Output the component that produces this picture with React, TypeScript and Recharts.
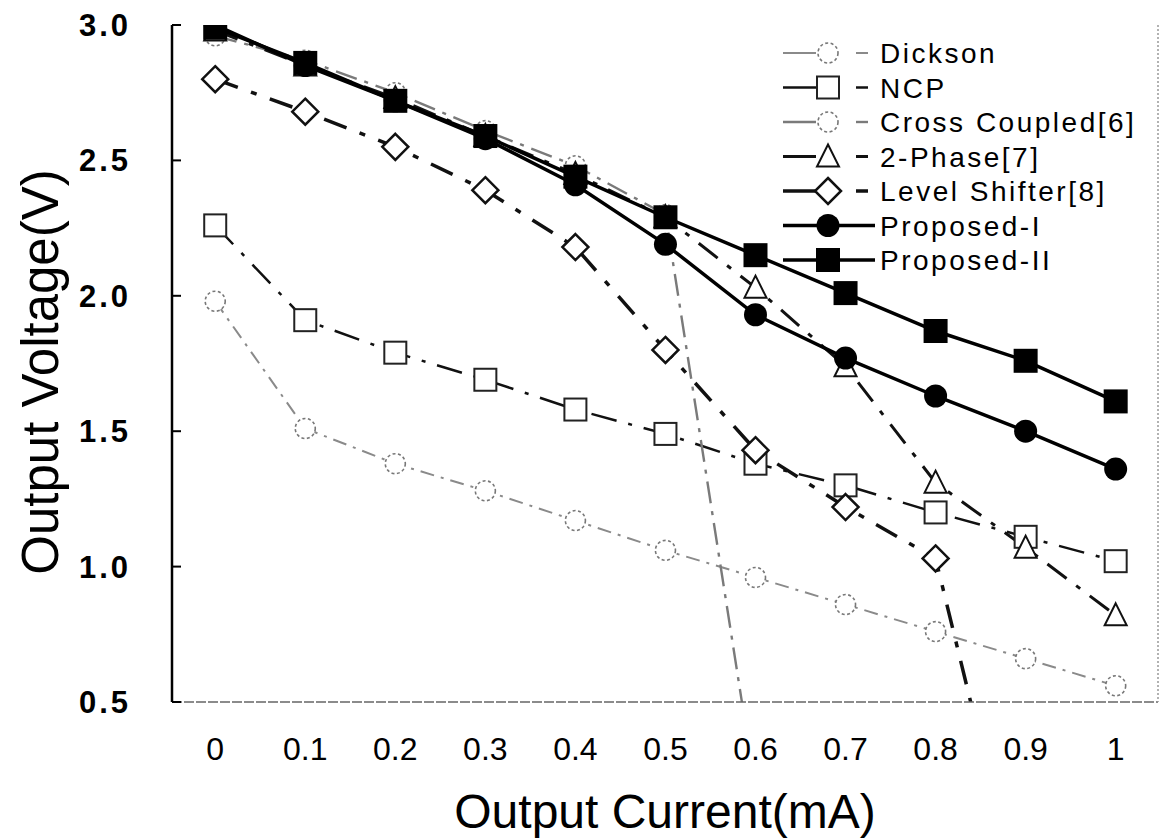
import React from 'react';
import { LineChart, Line, XAxis, YAxis, Legend } from 'recharts';

const currents = [0, 0.1, 0.2, 0.3, 0.4, 0.5, 0.6, 0.7, 0.8, 0.9, 1];
const dickson = [1.98, 1.51, 1.38, 1.28, 1.17, 1.06, 0.96, 0.86, 0.76, 0.66, 0.56];
const ncp = [2.26, 1.91, 1.79, 1.69, 1.58, 1.49, 1.38, 1.3, 1.2, 1.11, 1.02];
const crossCoupled = [2.96, 2.87, 2.75, 2.61, 2.48, 2.3, 0.18, null, null, null, null];
const twoPhase = [2.98, 2.85, 2.73, 2.59, 2.45, 2.29, 2.03, 1.74, 1.31, 1.07, 0.82];
const levelShifter = [2.8, 2.68, 2.55, 2.39, 2.18, 1.8, 1.43, 1.22, 1.03, -0.33, null];
const proposedI = [3.0, 2.85, 2.72, 2.58, 2.41, 2.19, 1.93, 1.77, 1.63, 1.5, 1.36];
const proposedII = [2.99, 2.86, 2.72, 2.59, 2.44, 2.29, 2.15, 2.01, 1.87, 1.76, 1.61];

const xTicks = [0, 0.1, 0.2, 0.3, 0.4, 0.5, 0.6, 0.7, 0.8, 0.9, 1];
const yTicks = [0.5, 1.0, 1.5, 2.0, 2.5, 3.0];
const seriesNames = ['Dickson', 'NCP', 'Cross Coupled[6]', '2-Phase[7]', 'Level Shifter[8]', 'Proposed-I', 'Proposed-II'];

const data = currents.map((c, i) => ({
  x: c,
  dickson: dickson[i],
  ncp: ncp[i],
  cross: crossCoupled[i],
  twoPhase: twoPhase[i],
  level: levelShifter[i],
  p1: proposedI[i],
  p2: proposedII[i],
}));

const FONT = '"Liberation Sans", Arial, Helvetica, sans-serif';
const Y_MIN = 0.5;

type Kind = 'dickson' | 'ncp' | 'cross' | 'twoPhase' | 'level' | 'p1' | 'p2';

const styles: Record<Kind, { stroke: string; width: number; dash?: string }> = {
  dickson: { stroke: '#8a8a8a', width: 2, dash: '14 7 3 7' },
  ncp: { stroke: '#111', width: 2.5, dash: '26 12 4 12' },
  cross: { stroke: '#7a7a7a', width: 2.4, dash: '22 8 4 8' },
  twoPhase: { stroke: '#111', width: 3, dash: '24 12 5 12' },
  level: { stroke: '#111', width: 3.5, dash: '24 14 6 14' },
  p1: { stroke: '#000', width: 3.5 },
  p2: { stroke: '#000', width: 3.5 },
};

function Marker({ kind, cx, cy }: { kind: Kind; cx: number; cy: number }) {
  switch (kind) {
    case 'dickson':
    case 'cross':
      return <circle cx={cx} cy={cy} r={10} fill="#fff" stroke="#777" strokeWidth={1.6} strokeDasharray="3 2.5" />;
    case 'ncp':
      return <rect x={cx - 11} y={cy - 11} width={22} height={22} fill="#fff" stroke="#222" strokeWidth={2} />;
    case 'twoPhase':
      return <polygon points={`${cx},${cy - 12} ${cx + 11},${cy + 10} ${cx - 11},${cy + 10}`} fill="#fff" stroke="#111" strokeWidth={2} />;
    case 'level':
      return <polygon points={`${cx},${cy - 13} ${cx + 13},${cy} ${cx},${cy + 13} ${cx - 13},${cy}`} fill="#fff" stroke="#111" strokeWidth={2.5} />;
    case 'p1':
      return <circle cx={cx} cy={cy} r={11.5} fill="#000" />;
    case 'p2':
      return <rect x={cx - 12} y={cy - 12} width={24} height={24} fill="#000" />;
  }
  return null;
}

const makeDot = (kind: Kind) => (props: any) => {
  const { cx, cy, value, index } = props;
  const v = Array.isArray(value) ? value[1] : value;
  if (cx == null || cy == null || v == null || v < Y_MIN) return <g key={`${kind}-${index}`} />;
  return (
    <g key={`${kind}-${index}`}>
      <Marker kind={kind} cx={cx} cy={cy} />
    </g>
  );
};

const XTick = (props: any) => {
  const { x, y, payload } = props;
  const v = payload.value;
  const label = v === 0 ? '0' : v === 1 ? '1' : String(v);
  return (
    <text x={x} y={y + 58} textAnchor="middle" fontFamily={FONT} fontSize={32} fill="#000">
      {label}
    </text>
  );
};

const YTick = (props: any) => {
  const { x, y, payload } = props;
  return (
    <g>
      <line x1={x} x2={x + 9} y1={y} y2={y} stroke="#000" strokeWidth={2} />
      <text x={x - 41} y={y + 11} textAnchor="end" fontFamily={FONT} fontSize={31} fontWeight="bold" letterSpacing={3} fill="#000">
        {Number(payload.value).toFixed(1)}
      </text>
    </g>
  );
};

const legendKinds: Kind[] = ['dickson', 'ncp', 'cross', 'twoPhase', 'level', 'p1', 'p2'];

const LegendContent = () => {
  const left = 775;
  const top = 30;
  return (
    <svg width={386} height={250} style={{ display: 'block', overflow: 'visible' }}>
      {legendKinds.map((k, i) => {
        const y = 53 + i * 34.5 - top;
        const s = styles[k];
        const mx = 828 - left;
        const solid = !s.dash;
        return (
          <g key={k}>
            {solid ? (
              <line x1={783 - left} x2={875 - left} y1={y} y2={y} stroke={s.stroke} strokeWidth={s.width} />
            ) : (
              <g>
                <line x1={783 - left} x2={816 - left} y1={y} y2={y} stroke={s.stroke} strokeWidth={s.width} />
                <line x1={856 - left} x2={868 - left} y1={y} y2={y} stroke={s.stroke} strokeWidth={s.width} />
              </g>
            )}
            <Marker kind={k} cx={mx} cy={y} />
            <text x={880 - left} y={y + 10} fontFamily={FONT} fontSize={28} letterSpacing={2.5} fill="#000">
              {seriesNames[i]}
            </text>
          </g>
        );
      })}
    </svg>
  );
};

const seriesKeys: Kind[] = ['dickson', 'ncp', 'cross', 'twoPhase', 'level', 'p1', 'p2'];

export default function App() {
  return (
    <div style={{ position: 'absolute', left: 0, top: 0, width: 1161, height: 840, background: '#fff' }}>
      <LineChart width={1161} height={840} data={data} margin={{ top: 25, right: 0, bottom: 0, left: 0 }}>
        <XAxis
          dataKey="x"
          type="number"
          domain={[-0.048, 1.047]}
          allowDataOverflow
          ticks={xTicks}
          height={138}
          tickSize={0}
          tickMargin={0}
          tickLine={false}
          axisLine={{ stroke: '#666', strokeWidth: 1.5, strokeDasharray: '10 2' }}
          tick={<XTick />}
          interval={0}
          label={() => (
            <text x={665} y={828} textAnchor="middle" fontFamily={FONT} fontSize={48} fill="#000">
              Output Current(mA)
            </text>
          )}
        />
        <XAxis
          xAxisId="top"
          orientation="top"
          dataKey="x"
          type="number"
          domain={[-0.048, 1.047]}
          height={0}
          tick={false}
          tickLine={false}
          axisLine={{ stroke: '#888', strokeWidth: 1.5, strokeDasharray: '14 3' }}
        />
        <YAxis
          type="number"
          domain={[0.5, 3]}
          allowDataOverflow
          ticks={yTicks}
          width={172}
          tickSize={0}
          tickMargin={0}
          tickLine={false}
          axisLine={{ stroke: '#000', strokeWidth: 2.5 }}
          tick={<YTick />}
          interval={0}
          label={() => (
            <text
              x={0}
              y={0}
              transform="translate(58, 372) rotate(-90)"
              textAnchor="middle"
              fontFamily={FONT}
              fontSize={51}
              fill="#000"
            >
              Output Voltage(V)
            </text>
          )}
        />
        <YAxis
          yAxisId="right"
          orientation="right"
          type="number"
          domain={[0.5, 3]}
          width={3}
          tick={false}
          tickLine={false}
          axisLine={{ stroke: '#999', strokeWidth: 1.5, strokeDasharray: '2 2' }}
        />
        <Legend
          layout="vertical"
          verticalAlign="middle"
          align="center"
          content={<LegendContent />}
          wrapperStyle={{ left: 775, top: 30, width: 386, height: 250 }}
        />
        {seriesKeys.map((k, i) => (
          <Line
            key={k}
            dataKey={k}
            name={seriesNames[i]}
            type="linear"
            stroke={styles[k].stroke}
            strokeWidth={styles[k].width}
            strokeDasharray={styles[k].dash}
            dot={makeDot(k)}
            activeDot={false}
            isAnimationActive={false}
            connectNulls={false}
          />
        ))}
      </LineChart>
    </div>
  );
}
